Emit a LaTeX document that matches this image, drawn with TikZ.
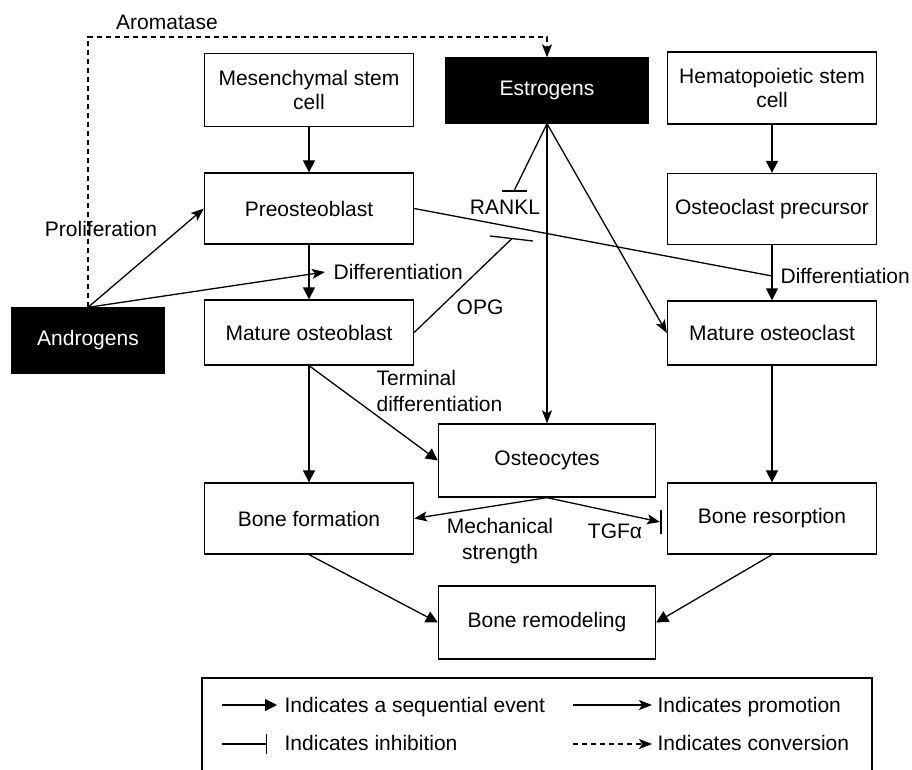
\documentclass[tikz,border=0pt]{standalone}
\usepackage{fontspec}
\setmainfont{Liberation Sans}
\usetikzlibrary{arrows.meta}
\begin{document}
\begin{tikzpicture}[x=1pt,y=-1pt, line width=1.3pt,
 box/.style={draw, fill=white, minimum width=209pt, minimum height=71pt, inner sep=0pt, align=center, font=\fontsize{21}{24}\selectfont},
 hormone/.style={box, fill=black, text=white},
 lbl/.style={font=\fontsize{21}{26}\selectfont, inner sep=0pt},
 one/.style={lbl, text height=15pt, text depth=0pt},
 seq/.style={-{Triangle[length=12pt,width=12pt]}},
 prom/.style={-{Stealth[length=13pt,width=10pt,inset=3pt]}},
 inh/.style={-{Bar[width=20pt]}},
 conv/.style={prom, dash pattern=on 5pt off 4pt},
]
\useasboundingbox (0,0) rectangle (912,770);

% boxes
\node[box, minimum height=73pt] (msc) at (309,90) {Mesenchymal stem\\cell};
\node[hormone, minimum width=202pt, minimum height=65pt] (est) at (547,90.5) {Estrogens};
\node[box, minimum height=72pt] (hsc) at (772,88) {Hematopoietic stem\\cell};
\node[box] (pre) at (309,208.5) {Preosteoblast};
\node[box] (ocp) at (772,209) {Osteoclast precursor};
\node[box, minimum height=65pt] (mob) at (309,332.5) {Mature osteoblast};
\node[box, minimum height=64pt] (moc) at (772,333) {Mature osteoclast};
\node[hormone, minimum width=153pt, minimum height=65pt] (andr) at (88,340.5) {Androgens};
\node[box, minimum width=217pt, minimum height=73pt] (ocy) at (547,460.5) {Osteocytes};
\node[box] (bf) at (309,518.5) {Bone formation};
\node[box] (bres) at (772,518.5) {Bone resorption};
\node[box, minimum width=217pt, minimum height=73pt] (brem) at (547,622.5) {Bone remodeling};

% sequential arrows
\draw[seq] (msc) -- (pre);
\draw[seq] (hsc) -- (ocp);
\draw[seq] (pre) -- (mob);
\draw[seq] (ocp) -- (moc);
\draw[seq] (mob) -- (bf);
\draw[seq] (moc) -- (bres);
\draw[seq] (mob.south) -- (ocy.west);
\draw[seq] (bf.south) -- (brem.west);
\draw[seq] (bres.south) -- (brem.east);

% androgens
\coordinate (d1) at (325,272);
\coordinate (arA) at (88,37);
\draw[prom] (andr.north) -- (pre.west);
\draw[prom] (andr.north) -- (d1);
\draw[conv] (andr.north) -- (arA) -| (est.north);
\node[one] (arom) at (167,22) {Aromatase};
\node[one] (prolif) at (101,229) {Proliferation};
\node[one, anchor=west] (difl) at (333,272) {Differentiation};

% preosteoblast to osteoclast differentiation
\coordinate (d2) at (772,276);
\draw (pre.east) -- (d2);
\node[one, anchor=west] (difr) at (780,276) {Differentiation};

% OPG
\coordinate (opgend) at (512,238.5);
\coordinate (opgb1) at (490,236);
\coordinate (opgb2) at (533,241);
\draw (mob.east) -- (opgend);
\draw (opgb1) -- (opgb2);
\node[one] (opg) at (480,307) {OPG};

% RANKL
\coordinate (rk) at (514,191);
\coordinate (rkb1) at (502,191);
\coordinate (rkb2) at (527,191);
\draw (est.south) -- (rk);
\draw (rkb1) -- (rkb2);
\node[one] (rankl) at (505,207) {RANKL};

% estrogens promotion
\draw[prom] (est.south) -- (ocy.north);
\draw[prom] (est.south) -- (moc.west);

\node[lbl, anchor=west, align=left] (term) at (376,391) {Terminal\\differentiation};

% osteocytes
\coordinate (tg) at (660,522);
\coordinate (tgb1) at (661,510);
\coordinate (tgb2) at (661,534);
\draw[prom] (ocy.south) -- (bf.east);
\draw[prom] (ocy.south) -- (tg);
\draw (tgb1) -- (tgb2);
\node[lbl, align=center] (mech) at (500,541.5) {Mechanical\\strength};
\node[one] (tgf) at (615,531) {TGFα};

% legend
\coordinate (lgA) at (202,770);
\coordinate (lgB) at (202,678);
\coordinate (lgC) at (872,678);
\coordinate (lgD) at (872,770);
\draw (lgA) -- (lgB) -- (lgC) -- (lgD);
\coordinate (l1a) at (222,705); \coordinate (l1b) at (277,705);
\coordinate (l2a) at (573,705); \coordinate (l2b) at (652,705);
\coordinate (l3a) at (222,744); \coordinate (l3b) at (267,744);
\coordinate (l4a) at (573,744); \coordinate (l4b) at (652,744);
\draw[seq] (l1a) -- (l1b);
\draw[prom] (l2a) -- (l2b);
\draw[inh] (l3a) -- (l3b);
\draw[conv] (l4a) -- (l4b);
\node[one, anchor=west] (t1) at (284,705) {Indicates a sequential event};
\node[one, anchor=west] (t2) at (657,705) {Indicates promotion};
\node[one, anchor=west] (t3) at (284,743) {Indicates inhibition};
\node[one, anchor=west] (t4) at (657,743) {Indicates conversion};
\end{tikzpicture}
\end{document}
